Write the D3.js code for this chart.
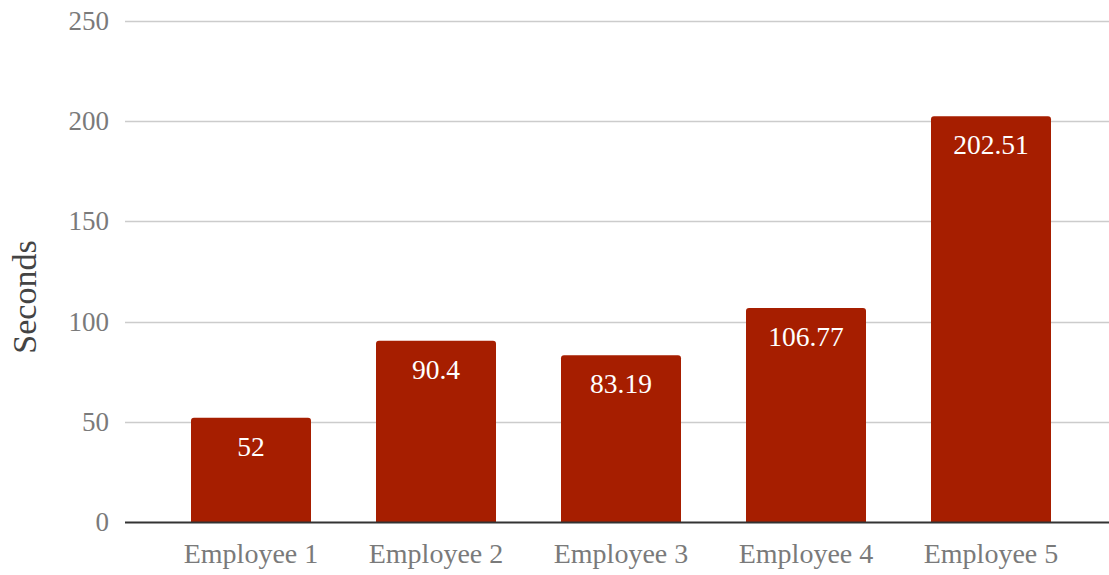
<!DOCTYPE html>
<html><head><meta charset="utf-8">
<script src="https://cdn.jsdelivr.net/npm/d3@7"></script>
<style>body{margin:0;background:#fff}svg{display:block}</style>
</head><body>
<svg id="c" width="1109" height="575"></svg>
<script>
const categories = ["Employee 1","Employee 2","Employee 3","Employee 4","Employee 5"];
const values = [52, 90.4, 83.19, 106.77, 202.51];
const valueLabels = ["52","90.4","83.19","106.77","202.51"];
const yTicks = [0,50,100,150,200,250];
const yTitle = "Seconds";

const font = "'Liberation Serif', 'DejaVu Serif', serif";
const svg = d3.select("#c");
const y = d3.scaleLinear().domain([0,250]).range([522,21]);
const x = d3.scaleBand().domain(categories).range([158.5,1083.5]).paddingInner(65/185).paddingOuter(65/370);

// gridlines
svg.append("g").selectAll("line").data(yTicks.filter(d=>d>0)).join("line")
  .attr("x1",125).attr("x2",1109).attr("y1",d=>Math.round(y(d))+0.5).attr("y2",d=>Math.round(y(d))+0.5)
  .attr("stroke","#cccccc").attr("stroke-width",1.3);

// y axis labels
svg.append("g").selectAll("text").data(yTicks).join("text")
  .attr("x",109).attr("y",d=>y(d)+9).attr("text-anchor","end")
  .attr("font-family",font).attr("font-size",27).attr("fill","#7a7a7a").text(d=>d);

// bars
const r = 3;
svg.append("g").selectAll("path").data(values).join("path")
  .attr("d",(d,i)=>{
    const x0 = x(categories[i]), w = x.bandwidth(), t = y(d), b = y(0);
    return `M${x0},${b}V${t+r}Q${x0},${t} ${x0+r},${t}H${x0+w-r}Q${x0+w},${t} ${x0+w},${t+r}V${b}Z`;
  })
  .attr("fill","#a61e00");

// value labels
svg.append("g").selectAll("text").data(values).join("text")
  .attr("x",(d,i)=>x(categories[i])+x.bandwidth()/2).attr("y",d=>y(d)+38)
  .attr("text-anchor","middle").attr("font-family",font).attr("font-size",27.5).attr("fill","#ffffff")
  .text((d,i)=>valueLabels[i]);

// baseline
svg.append("line").attr("x1",125).attr("x2",1109).attr("y1",y(0)+0.5).attr("y2",y(0)+0.5)
  .attr("stroke","#333333").attr("stroke-width",2);

// x labels
svg.append("g").selectAll("text").data(categories).join("text")
  .attr("x",d=>x(d)+x.bandwidth()/2).attr("y",563).attr("text-anchor","middle")
  .attr("font-family",font).attr("font-size",28).attr("fill","#7a7a7a").text(d=>d);

// y title
svg.append("text").attr("transform","translate(36,297) rotate(-90)").attr("text-anchor","middle")
  .attr("font-family",font).attr("font-size",34).attr("fill","#444444").text(yTitle);
</script>
</body></html>
